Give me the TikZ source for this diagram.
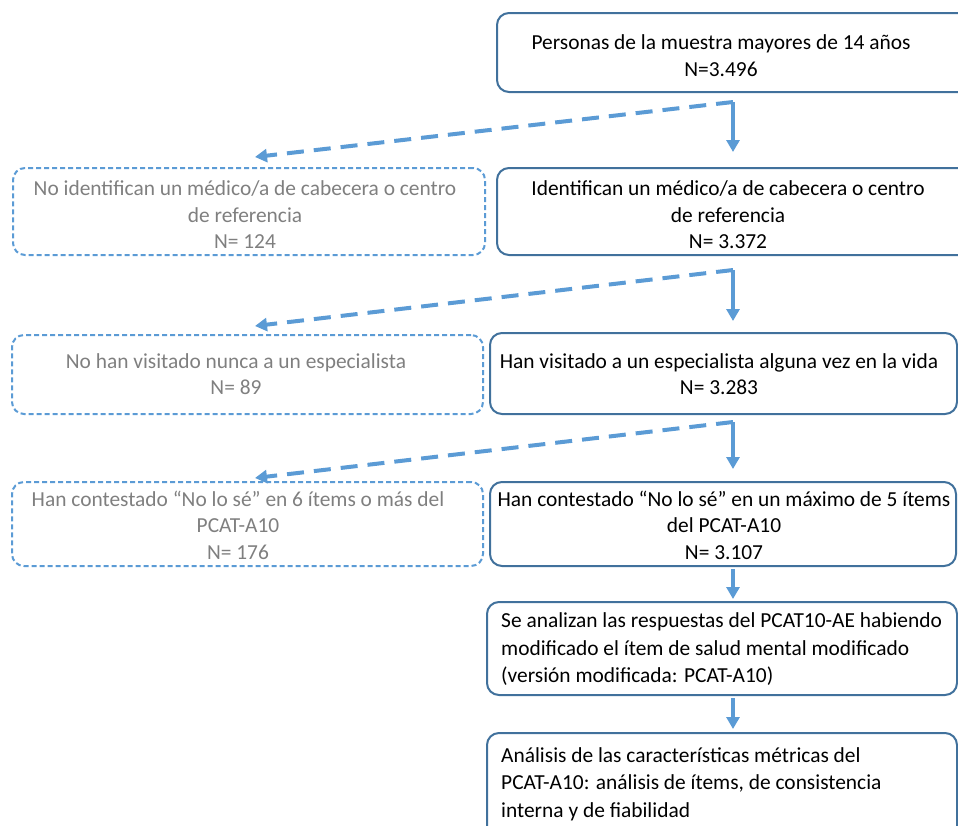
\documentclass[tikz,border=0pt]{standalone}
\usepackage{fontspec}
\setmainfont{Carlito}
\usetikzlibrary{arrows.meta}

\definecolor{boxblue}{HTML}{41719C}
\definecolor{flowblue}{HTML}{5B9BD5}
\definecolor{greytext}{HTML}{7F7F7F}

\tikzset{
  box/.style={draw=boxblue, line width=2pt, rounded corners=12pt, inner sep=0pt},
  outbox/.style={draw=flowblue, line width=2pt, dash pattern=on 5pt off 3pt,
    rounded corners=12pt, inner sep=0pt},
  txt/.style={align=center, inner sep=0pt, font=\fontsize{21.4}{26.5}\selectfont},
  outtxt/.style={txt, text=greytext},
  flow/.style={draw=flowblue, line width=4pt, -{Triangle[width=13pt,length=12pt]}},
  drop/.style={flow, dash pattern=on 17pt off 10pt},
}

\begin{document}
\begin{tikzpicture}[x=1pt, y=-1pt]
  \clip (0,0) rectangle (958,825);

  % main column
  \node[box, minimum width=483pt, minimum height=79pt] (start) at (738.5,52.5) {};
  \node[box, minimum width=483pt, minimum height=87pt] (ident) at (738.5,211.5) {};
  \node[box, minimum width=467pt, minimum height=81pt] (visit) at (723.5,373.5) {};
  \node[box, minimum width=466pt, minimum height=84pt] (answer) at (723,524) {};
  \node[box, minimum width=470pt, minimum height=93pt] (modif) at (722,648.5) {};
  \node[box, minimum width=470pt, minimum height=107pt] (metric) at (722,786.5) {};

  \node[txt, font=\fontsize{21.4}{27.5}\selectfont] (starttxt)
    at ([xshift=-17.5pt,yshift=-3pt]start.center)
    {Personas de la muestra mayores de 14 años\\N=3.496};
  \node[txt] (identtxt) at ([xshift=-10.5pt,yshift=-3.5pt]ident.center)
    {Identifican un médico/a de cabecera o centro\\de referencia\\N= 3.372};
  \node[txt] (visittxt) at ([xshift=-4.5pt,yshift=-0.5pt]visit.center)
    {Han visitado a un especialista alguna vez en la vida\\N= 3.283};
  \node[txt] (answertxt) at ([xshift=1pt,yshift=-1pt]answer.center)
    {Han contestado “No lo sé” en un máximo de 5 ítems\\del PCAT-A10\\N= 3.107};
  \node[txt, align=left, anchor=west, font=\fontsize{21.4}{27.5}\selectfont]
    (modiftxt) at ([xshift=15pt,yshift=-1pt]modif.west)
    {Se analizan las respuestas del PCAT10-AE habiendo\\modificado el ítem de salud mental modificado\\(versión modificada: PCAT-A10)};
  \node[txt, align=left, anchor=west, font=\fontsize{21.4}{27.5}\selectfont]
    (metrictxt) at ([xshift=15pt,yshift=2.5pt]metric.west)
    {Análisis de las características métricas del\\PCAT-A10: análisis de ítems, de consistencia\\interna y de fiabilidad};

  % excluded
  \node[outbox, minimum width=472pt, minimum height=87pt] (noident) at (249,211.5) {};
  \node[outbox, minimum width=471pt, minimum height=79pt] (novisit) at (247.5,374.5) {};
  \node[outbox, minimum width=471pt, minimum height=84pt] (noanswer) at (247.5,524) {};

  \node[outtxt] (noidenttxt) at ([xshift=-4pt,yshift=-3.5pt]noident.center)
    {No identifican un médico/a de cabecera o centro\\de referencia\\N= 124};
  \node[outtxt] (novisittxt) at ([xshift=-11.5pt,yshift=0.5pt]novisit.center)
    {No han visitado nunca a un especialista\\N= 89};
  \node[outtxt] (noanswertxt) at ([xshift=-9.5pt,yshift=-1pt]noanswer.center)
    {Han contestado “No lo sé” en 6 ítems o más del\\PCAT-A10\\N= 176};

  \coordinate (split1) at (733,102);
  \coordinate (split2) at (733,270);
  \coordinate (split3) at (733,422);

  \draw[drop] (split1) -- ([xshift=6pt,yshift=10pt]noident.north);
  \draw[drop] (split2) -- ([xshift=7.5pt,yshift=8pt]novisit.north);
  \draw[drop] (split3) -- ([xshift=7.5pt,yshift=3pt]noanswer.north);

  \draw[flow, shorten >=15pt] (split1) -- (split1 |- ident.north);
  \draw[flow, shorten >=11pt] (split2) -- (split2 |- visit.north);
  \draw[flow, shorten >=12pt] (split3) -- (split3 |- answer.north);
  \draw[flow, shorten <=2pt, shorten >=2pt] (split3 |- answer.south) -- (split3 |- modif.north);
  \draw[flow, shorten <=2pt, shorten >=3pt] (split3 |- modif.south) -- (split3 |- metric.north);
\end{tikzpicture}
\end{document}
